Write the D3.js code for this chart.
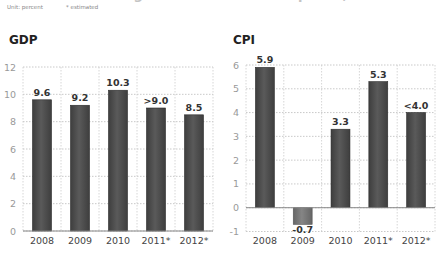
<!DOCTYPE html>
<html>
<head>
<meta charset="utf-8">
<script src="https://cdn.jsdelivr.net/npm/d3@7"></script>
<style>
  body { margin: 0; background: #fff; }
  svg { display: block; font-family: "DejaVu Sans", sans-serif; }
</style>
</head>
<body>
<svg id="canvas" width="437" height="256"></svg>
<script>
// data
let years = ["2008", "2009", "2010", "2011*", "2012*"]
let gdpValues = [9.6, 9.2, 10.3, 9.0, 8.5]
let gdpLabels = ["9.6", "9.2", "10.3", ">9.0", "8.5"]
let gdpTicks = [0, 2, 4, 6, 8, 10, 12]
let cpiValues = [5.9, -0.7, 3.3, 5.3, 4.0]
let cpiLabels = ["5.9", "-0.7", "3.3", "5.3", "<4.0"]
let cpiTicks = [-1, 0, 1, 2, 3, 4, 5, 6]

let canvas = d3.select("#canvas")

// gradient for the bars
let defs = canvas.append("defs")
let makeGrad = (id, edge, mid) => {
  let g = defs.append("linearGradient").attr("id", id)
  g.append("stop").attr("offset", "0%").attr("stop-color", edge)
  g.append("stop").attr("offset", "45%").attr("stop-color", mid)
  g.append("stop").attr("offset", "100%").attr("stop-color", edge)
}
makeGrad("barDark", "#3e3e3e", "#5a5a5a")
makeGrad("barLight", "#666", "#858585")

// headline, mostly cut off at the top edge (as in the source image)
canvas.append("text")
      .attr("x", 2).attr("y", -1)
      .attr("font-size", 13).attr("font-weight", "bold").attr("fill", "#c4c4c4")
      .text("China's economic growth and consumer prices, 2008-2012")

canvas.append("text").attr("x", 7).attr("y", 9)
      .attr("font-size", 5.5).attr("fill", "#888").text("Unit: percent")
canvas.append("text").attr("x", 66).attr("y", 9)
      .attr("font-size", 5.5).attr("fill", "#888").text("* estimated")

let drawPanel = (opts) => {
  let { title, values, labels, ticks, left, right, top, bottom, domain, titleX } = opts

  let x = d3.scaleBand().domain(years).range([left, right]).padding(0)
  let y = d3.scaleLinear().domain(domain).range([bottom, top])
  let barW = x.bandwidth() * 0.5

  let g = canvas.append("g")

  g.append("text").attr("x", titleX).attr("y", 44)
   .attr("font-size", 12).attr("font-weight", "bold").attr("fill", "#222")
   .text(title)

  // horizontal dotted grid
  g.selectAll(".hgrid").data(ticks).enter().append("line")
   .attr("x1", left).attr("x2", right)
   .attr("y1", d => y(d)).attr("y2", d => y(d))
   .attr("stroke", "#bbb").attr("stroke-width", 0.8)
   .attr("stroke-dasharray", "1.5,1.5")

  // vertical dotted grid at category edges
  let edges = years.map(d => x(d)).concat([right])
  g.selectAll(".vgrid").data(edges).enter().append("line")
   .attr("x1", d => d).attr("x2", d => d)
   .attr("y1", y(domain[1])).attr("y2", y(domain[0]))
   .attr("stroke", "#ccc").attr("stroke-width", 0.8)
   .attr("stroke-dasharray", "1.5,1.5")

  // y tick labels
  g.selectAll(".ytick").data(ticks).enter().append("text")
   .attr("x", left - 7).attr("y", d => y(d) + 3.5)
   .attr("text-anchor", "end")
   .attr("font-size", 9.5).attr("fill", "#999")
   .text(d => d)

  // bars
  g.selectAll(".bar").data(values).enter().append("rect")
   .attr("x", (d, i) => x(years[i]) + (x.bandwidth() - barW) / 2)
   .attr("width", barW)
   .attr("y", d => y(Math.max(0, d)))
   .attr("height", d => Math.abs(y(d) - y(0)))
   .attr("fill", d => d < 0 ? "url(#barLight)" : "url(#barDark)")
   .attr("stroke", d => d < 0 ? "#555" : "#2a2a2a").attr("stroke-width", 0.6)

  // zero line
  g.append("line").attr("x1", left).attr("x2", right)
   .attr("y1", y(0)).attr("y2", y(0))
   .attr("stroke", "#888").attr("stroke-width", 1)

  // value labels
  g.selectAll(".val").data(values).enter().append("text")
   .attr("x", (d, i) => x(years[i]) + x.bandwidth() / 2)
   .attr("y", d => d < 0 ? y(d) + 9 : y(d) - 4)
   .attr("text-anchor", "middle")
   .attr("font-size", 9.5).attr("font-weight", "bold").attr("fill", "#333")
   .text((d, i) => labels[i])

  // year labels
  g.selectAll(".year").data(years).enter().append("text")
   .attr("x", d => x(d) + x.bandwidth() / 2)
   .attr("y", 244)
   .attr("text-anchor", "middle")
   .attr("font-size", 9.5).attr("fill", "#444")
   .text(d => d)
}

drawPanel({
  title: "GDP", values: gdpValues, labels: gdpLabels, ticks: gdpTicks,
  left: 23, right: 213, top: 67, bottom: 231, domain: [0, 12], titleX: 9
})

drawPanel({
  title: "CPI", values: cpiValues, labels: cpiLabels, ticks: cpiTicks,
  left: 246, right: 435, top: 65, bottom: 231.5, domain: [-1, 6], titleX: 233
})
</script>
</body>
</html>
